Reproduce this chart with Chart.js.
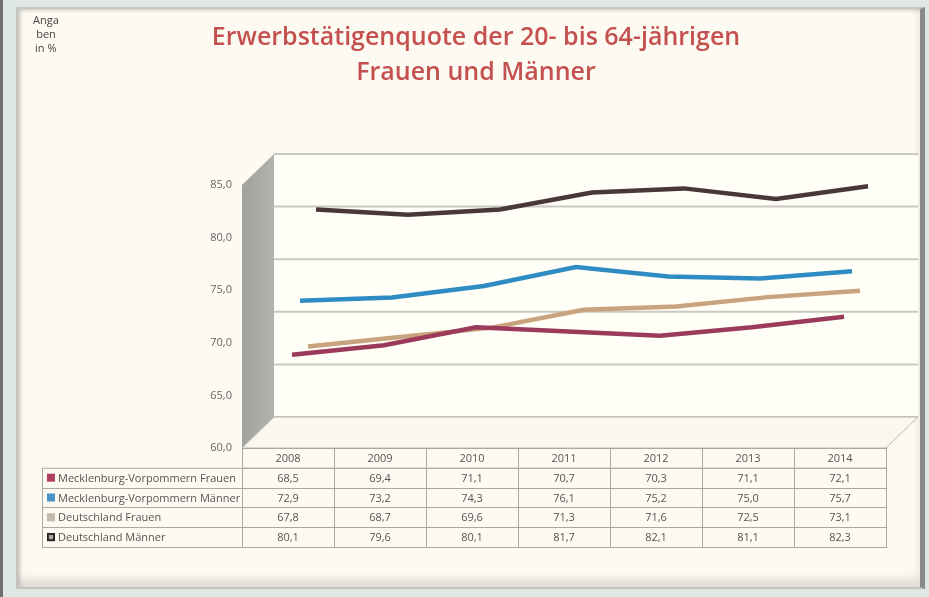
<!DOCTYPE html>
<html>
<head>
<meta charset="utf-8">
<script src="https://cdn.jsdelivr.net/npm/chart.js@4"></script>
<style>
  html, body { margin: 0; padding: 0; }
  body { width: 929px; height: 597px; background: #dfe7e2; position: relative; overflow: hidden; }
  #edge { position: absolute; left: 0; top: 0; width: 3px; height: 597px; background: #6e6e6e; }
  #panel { position: absolute; left: 16px; top: 7px; width: 902px; height: 578px;
    background: #fcfaf1; border: 2px solid #c4c4c0; border-right: 5px solid #8a8a88;
    box-shadow: inset 0 -8px 10px rgba(0,0,0,0.12), inset 2px 2px 3px rgba(0,0,0,0.15); }
  canvas { position: absolute; left: 0; top: 0; }
</style>
</head>
<body>
<div id="edge"></div>
<div id="panel"></div>
<canvas id="chart" width="929" height="597"></canvas>
<script>
const years = ['2008', '2009', '2010', '2011', '2012', '2013', '2014'];
const seriesNames = ['Mecklenburg-Vorpommern Frauen', 'Mecklenburg-Vorpommern Männer', 'Deutschland Frauen', 'Deutschland Männer'];
const mvFrauen = [68.5, 69.4, 71.1, 70.7, 70.3, 71.1, 72.1];
const mvMaenner = [72.9, 73.2, 74.3, 76.1, 75.2, 75.0, 75.7];
const deFrauen = [67.8, 68.7, 69.6, 71.3, 71.6, 72.5, 73.1];
const deMaenner = [80.1, 79.6, 80.1, 81.7, 82.1, 81.1, 82.3];
const lineColors = ['#9b3a5a', '#2e8cc2', '#c9a27e', '#4a3838'];
const swatchColors = ['#b0405f', '#4a92c9', '#c2baac', '#3a3030'];

const depthX = 32, depthY = -31;
const fmt = v => v.toFixed(1).replace('.', ',');
const textFont = '11px "Open Sans", sans-serif';

// Excel-like 3D frame: side wall, floor, back wall with grid lines
const wallPlugin = {
  id: 'walls',
  beforeDatasetsDraw(chart) {
    const {ctx, chartArea: a, scales: {y}} = chart;
    ctx.save();
    // back wall
    ctx.fillStyle = '#fffef7';
    ctx.fillRect(a.left + depthX, a.top + depthY, a.right - a.left, a.bottom - a.top);
    ctx.strokeStyle = '#c9c9c2';
    ctx.lineWidth = 2;
    y.ticks.forEach(t => {
      const py = y.getPixelForValue(t.value) + depthY;
      ctx.beginPath();
      ctx.moveTo(a.left + depthX, py);
      ctx.lineTo(a.right + depthX, py);
      ctx.stroke();
    });
    // side wall
    const grad = ctx.createLinearGradient(a.left, 0, a.left + depthX, 0);
    grad.addColorStop(0, '#a2a29e');
    grad.addColorStop(1, '#b2b2ae');
    ctx.fillStyle = grad;
    ctx.beginPath();
    ctx.moveTo(a.left, a.top);
    ctx.lineTo(a.left + depthX, a.top + depthY);
    ctx.lineTo(a.left + depthX, a.bottom + depthY);
    ctx.lineTo(a.left, a.bottom);
    ctx.closePath();
    ctx.fill();
    // floor
    ctx.fillStyle = '#f9f7ee';
    ctx.strokeStyle = '#b8b8b2';
    ctx.lineWidth = 1;
    ctx.beginPath();
    ctx.moveTo(a.left, a.bottom);
    ctx.lineTo(a.left + depthX, a.bottom + depthY);
    ctx.lineTo(a.right + depthX, a.bottom + depthY);
    ctx.lineTo(a.right, a.bottom);
    ctx.closePath();
    ctx.fill();
    ctx.stroke();
    ctx.restore();
  },
  beforeDatasetDraw(chart, args) {
    const f = (args.index + 0.5) / chart.data.datasets.length;
    chart.ctx.save();
    chart.ctx.translate(depthX * f, depthY * f);
  },
  afterDatasetDraw(chart) {
    chart.ctx.restore();
  }
};

// data table under the plot, columns follow the category scale
const tablePlugin = {
  id: 'dataTable',
  afterDraw(chart) {
    const {ctx, chartArea: a, scales: {x}} = chart;
    const colW = (a.right - a.left) / years.length;
    const rowH = 19.8;
    const top = a.bottom;
    const labelLeft = 42;
    const bottom = top + rowH * (seriesNames.length + 1);
    ctx.save();
    ctx.strokeStyle = '#a9a9a4';
    ctx.lineWidth = 1;
    ctx.strokeRect(a.left + 0.5, top + 0.5, a.right - a.left, rowH);
    ctx.strokeRect(labelLeft + 0.5, top + rowH + 0.5, a.right - labelLeft, rowH * seriesNames.length);
    for (let r = 1; r < seriesNames.length; r++) {
      const py = Math.round(top + rowH * (r + 1)) + 0.5;
      ctx.beginPath(); ctx.moveTo(labelLeft, py); ctx.lineTo(a.right, py); ctx.stroke();
    }
    for (let c = 0; c < years.length; c++) {
      const px = Math.round(a.left + colW * c) + 0.5;
      ctx.beginPath(); ctx.moveTo(px, top); ctx.lineTo(px, bottom); ctx.stroke();
    }
    ctx.font = textFont;
    ctx.fillStyle = '#555555';
    ctx.textBaseline = 'middle';
    ctx.textAlign = 'center';
    years.forEach((yr, i) => {
      const cx = x.getPixelForValue(i);
      ctx.fillText(yr, cx, top + rowH / 2 + 1);
      chart.data.datasets.forEach((ds, r) => {
        ctx.fillText(fmt(ds.data[i]), cx, top + rowH * (r + 1.5) + 1);
      });
    });
    ctx.textAlign = 'left';
    seriesNames.forEach((name, r) => {
      const cy = top + rowH * (r + 1.5);
      ctx.fillStyle = swatchColors[r];
      ctx.fillRect(47, cy - 4, 8, 8);
      if (r === 3) {
        ctx.strokeStyle = '#222';
        ctx.strokeRect(47.5, cy - 3.5, 7, 7);
        ctx.fillStyle = '#b0a8a0';
        ctx.fillRect(49, cy - 2, 4, 4);
      }
      ctx.fillStyle = '#555555';
      ctx.fillText(name, 58, cy + 1);
    });
    // titles
    ctx.textAlign = 'center';
    ctx.fillStyle = '#c4504f';
    ctx.font = '600 25px "Open Sans", sans-serif';
    ctx.fillText('Erwerbstätigenquote der 20- bis 64-jährigen', 476, 38);
    ctx.fillText('Frauen und Männer', 476, 73);
    ctx.fillStyle = '#444';
    ctx.font = '11px "Open Sans", sans-serif';
    ctx.fillText('Anga', 46, 21);
    ctx.fillText('ben', 46, 35);
    ctx.textAlign = 'left';
    ctx.fillText('in %', 35, 49);
    ctx.restore();
  }
};

const series = [mvFrauen, mvMaenner, deFrauen, deMaenner];

new Chart(document.getElementById('chart'), {
  type: 'line',
  data: {
    labels: years,
    datasets: series.map((vals, i) => ({
      label: seriesNames[i],
      data: vals,
      borderColor: lineColors[i],
      borderWidth: 4.5,
      pointRadius: 0,
      tension: 0,
      clip: false
    }))
  },
  options: {
    responsive: false,
    animation: false,
    layout: { padding: { top: 185, bottom: 149, right: 43, left: 0 } },
    plugins: {
      legend: { display: false },
      tooltip: { enabled: false },
      title: { display: false }
    },
    scales: {
      x: { display: false, offset: true },
      y: {
        min: 60,
        max: 85,
        ticks: {
          stepSize: 5,
          padding: 10,
          color: '#666',
          font: { family: 'Open Sans', size: 11 },
          callback: v => fmt(v)
        },
        grid: { display: false, drawTicks: false },
        border: { display: false },
        afterFit(scale) { scale.width = 242; }
      }
    }
  },
  plugins: [wallPlugin, tablePlugin]
});
</script>
</body>
</html>
